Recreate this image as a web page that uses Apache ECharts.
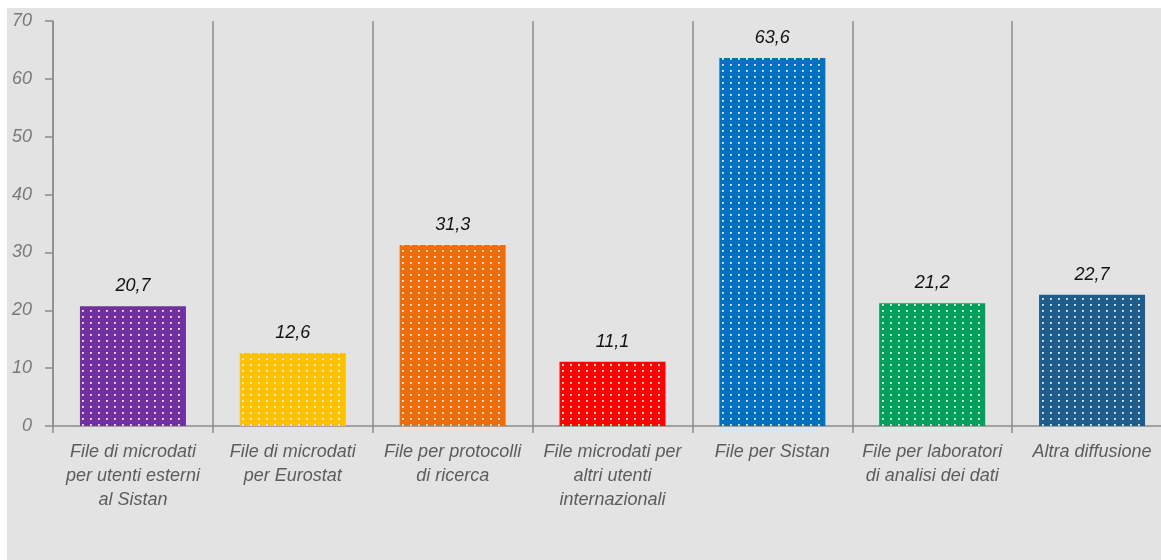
<!DOCTYPE html>
<html>
<head>
<meta charset="utf-8">
<script src="https://cdn.jsdelivr.net/npm/echarts@6/dist/echarts.min.js"></script>
<style>
  html, body { margin: 0; padding: 0; background: #fff; overflow: hidden; }
  .wrap { position: absolute; left: 7px; top: 8px; width: 1168px; height: 552px; background: #e3e3e3; }
  #chart { width: 1168px; height: 552px; }
</style>
</head>
<body>
<div class="wrap"><div id="chart"></div></div>
<script>
// categorie (con a capo come nel grafico)
var categories = [
  'File di microdati\nper utenti esterni\nal Sistan',
  'File di microdati\nper Eurostat',
  'File per protocolli\ndi ricerca',
  'File microdati per\naltri utenti\ninternazionali',
  'File per Sistan',
  'File per laboratori\ndi analisi dei dati',
  'Altra diffusione'
];
var values = [20.7, 12.6, 31.3, 11.1, 63.6, 21.2, 22.7];
var barColors = ['#7030a0', '#ffc000', '#ee6d0a', '#ff0000', '#0070c0', '#00a05a', '#1f5c8e'];

// riempimento a puntini
function dots (color) {
  var c = document.createElement('canvas');
  c.width = 8;
  c.height = 6;
  var ctx = c.getContext('2d');
  ctx.fillStyle = color;
  ctx.fillRect(0, 0, 8, 6);
  ctx.fillStyle = 'rgba(255,255,255,0.9)';
  ctx.fillRect(3, 2, 1.8, 1.8);
  return c;
}

var chart = echarts.init(document.getElementById('chart'));
chart.setOption({
  animation: false,
  grid: { left: 46, right: 3, top: 13, bottom: 134 },
  xAxis: {
    type: 'category',
    data: categories,
    boundaryGap: true,
    axisLine: { lineStyle: { color: '#8c8c8c', width: 1.5 } },
    axisTick: { show: true, length: 7, lineStyle: { color: '#8c8c8c', width: 1.5 } },
    splitLine: { show: true, lineStyle: { color: '#8c8c8c', width: 1.5 } },
    axisLabel: {
      interval: 0,
      margin: 14,
      color: '#5c5c5c',
      fontFamily: 'Liberation Sans',
      fontStyle: 'italic',
      fontSize: 18,
      lineHeight: 24
    }
  },
  yAxis: {
    type: 'value',
    min: 0,
    max: 70,
    interval: 10,
    axisLine: { show: true, lineStyle: { color: '#8c8c8c', width: 1.5 } },
    axisTick: { show: true, length: 8, lineStyle: { color: '#8c8c8c', width: 1.5 } },
    splitLine: { show: false },
    axisLabel: {
      margin: 21,
      color: '#7a7a7a',
      fontFamily: 'Liberation Sans',
      fontStyle: 'italic',
      fontSize: 18
    }
  },
  series: [{
    type: 'bar',
    barWidth: 106,
    data: values.map(function (v, i) {
      return { value: v, itemStyle: { color: { image: dots(barColors[i]), repeat: 'repeat' } } };
    }),
    label: {
      show: true,
      position: 'top',
      distance: 11,
      color: '#111',
      fontFamily: 'Liberation Sans',
      fontStyle: 'italic',
      fontSize: 18,
      formatter: function (p) { return p.value.toFixed(1).replace('.', ','); }
    }
  }]
});
</script>
</body>
</html>
